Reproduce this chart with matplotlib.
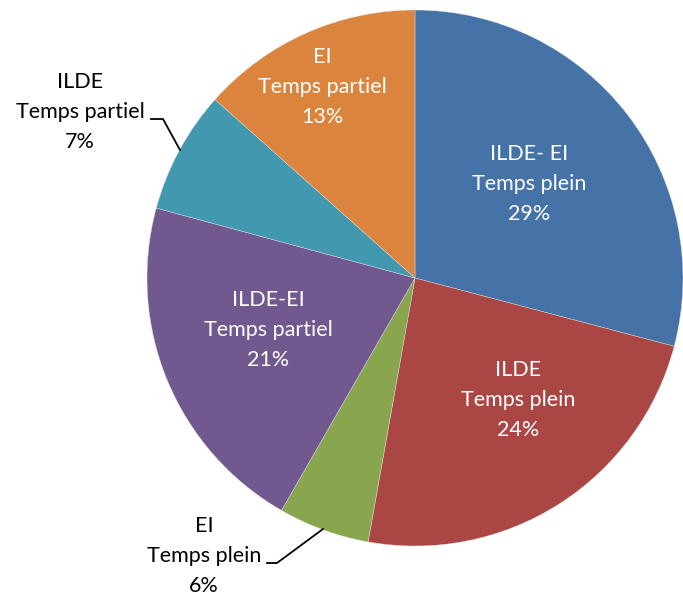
import matplotlib
matplotlib.use("Agg")
import matplotlib.pyplot as plt

# ===== DATA =====
groups = ["ILDE- EI", "ILDE", "EI", "ILDE-EI", "ILDE", "EI"]
regimes = ["Temps plein", "Temps plein", "Temps plein",
           "Temps partiel", "Temps partiel", "Temps partiel"]
shares = [29.1, 23.7, 5.5, 20.9, 7.4, 13.4]
colors = ["#4572A7", "#AA4643", "#89A54E", "#71588F", "#4198AF", "#DB843D"]

W, H = 683, 596
plt.rcParams['font.family'] = ['Lato', 'DejaVu Sans']

fig = plt.figure(figsize=(W / 100, H / 100), dpi=100)
ax = fig.add_axes([0, 0, 1, 1])


def py(y):
    # pixel row (from top) -> data y
    return H - y


ax.pie(shares, colors=colors, startangle=90, counterclock=False,
       center=(415, py(278)), radius=268, frame=True,
       wedgeprops=dict(linewidth=0.3, edgecolor='#dddddd'))

# label centres in pixels, text colour, inside or outside
label_pos = [(529, 184), (518, 400), (204, 556), (268, 330), (80, 112), (322, 87)]
inside = [True, True, False, True, False, True]

for g, r, v, (x, y), ins in zip(groups, regimes, shares, label_pos, inside):
    ax.text(x, py(y), f"{g}\n{r}\n{round(v)}%", ha='center', va='center',
            fontsize=15.5, linespacing=1.6,
            color='white' if ins else 'black')

# leader lines for the small outside labels
ax.plot([151, 163, 180], [py(119), py(119), py(150)], color='black', lw=1.3)
ax.plot([267, 277, 323], [py(563), py(563), py(529)], color='black', lw=1.3)

ax.set_xlim(0, W)
ax.set_ylim(0, H)
ax.set_aspect('equal')
ax.axis('off')

fig.savefig("out.png", dpi=100)
